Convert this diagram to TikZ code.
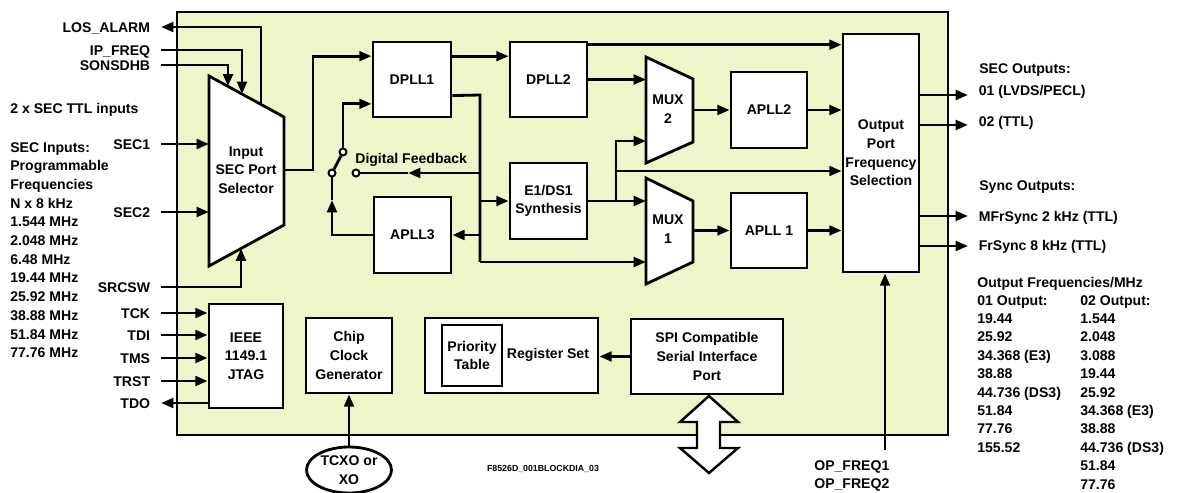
\documentclass[tikz,border=0pt]{standalone}
\usepackage{fontspec}
\setmainfont{Liberation Sans}
\usetikzlibrary{arrows.meta,calc,shapes.geometric}
\definecolor{chipbg}{HTML}{EEF5C9}

\tikzset{
  wire/.style={line width=1.6pt},
  sig/.style={wire, -{Triangle[length=7pt,width=5.5pt]}},
  blk/.style={draw, line width=1.6pt, fill=white, align=center, inner sep=1pt},
  sz/.style 2 args={minimum width=#1*0.02cm, minimum height=#2*0.02cm},
  even/.style={text height=5.8pt, text depth=0pt},
  lbl/.style={even, anchor=east, inner xsep=6pt, inner ysep=0pt},
  txt/.style={even, anchor=west, inner sep=0pt},
  outtxt/.style={even, anchor=west, inner xsep=6pt, inner ysep=0pt},
  contact/.style={circle, draw, fill=white, line width=1.1pt, minimum size=4pt, inner sep=0pt},
}

\begin{document}
\begin{tikzpicture}[x=0.02cm, y=-0.02cm, font=\fontsize{8pt}{10.6pt}\selectfont\bfseries]
\useasboundingbox (0,0) rectangle (1177,493);

% chip body
\draw[line width=1.6pt, fill=chipbg] (177,12) rectangle (948,435);

% input port selector
\draw[line width=1.6pt, fill=white] (209,76) coordinate (sel-nw) -- (284,117) -- (284,225) -- (209,266) -- cycle;
\node[align=center] (selt) at (246,170) {Input\\SEC Port\\Selector};
\coordinate (sel-los) at (261,104.4);
\coordinate (sel-ipf) at (242,94);
\coordinate (sel-son) at (228,86.4);
\coordinate (sel-src) at (241,248.5);
\coordinate (sel-out) at (284,170);

% muxes
\draw[line width=1.6pt, fill=white] (646,57) coordinate (m2-nw) -- (693,79) coordinate (m2-ne) -- (693,142) -- (646,163) -- cycle;
\node[align=center] (mux2) at (668,109) {MUX\\2};
\draw[line width=1.6pt, fill=white] (646,178) coordinate (m1-nw) -- (693,201) coordinate (m1-ne) -- (693,262) -- (646,284) -- cycle;
\node[align=center] (mux1) at (668,229) {MUX\\1};
\coordinate (m2-in) at (646,141);
\coordinate (m1-in) at (646,262);

% blocks
\node[blk, sz={78}{75}] (dpll1) at (412,79.5) {DPLL1};
\node[blk, sz={77}{75}] (dpll2) at (548.5,79.5) {DPLL2};
\node[blk, sz={77}{76}] (apll3) at (412.5,235) {APLL3};
\node[blk, sz={77}{76}] (e1ds1) at (548.5,201) {E1/DS1\\Synthesis};
\node[blk, sz={76}{76}] (apll2) at (769,110) {APLL2};
\node[blk, sz={76}{75}] (apll1) at (769,230.5) {APLL 1};
\node[blk, sz={76}{238}] (opfs) at (881,153) {Output\\Port\\Frequency\\Selection};
\node[blk, sz={74}{104}] (jtag) at (246,356) {IEEE\\1149.1\\JTAG};
\node[blk, sz={86}{75}] (ccg) at (349,355.5) {Chip\\Clock\\Generator};
\node[blk, sz={173}{75}] (regs) at (511.5,355.5) {};
\node[blk, sz={60}{61}] (prio) at (472,355.5) {Priority\\Table};
\node (rst) at (548,355) {Register Set};
\node[blk, sz={152}{75}] (spi) at (707,356.5) {SPI Compatible\\Serial Interface\\Port};
\node[draw, ellipse, line width=1.6pt, fill=white, sz={85}{46}, align=center, inner sep=0pt] (xo) at (349,470) {TCXO or\\XO};

% bus port to the outside
\draw[line width=1.4pt, fill=white] (709,396) -- (738,422) -- (720,422) -- (720,448) -- (738,448) -- (709,473)
  -- (680,448) -- (697,448) -- (697,422) -- (680,422) -- cycle;

% left pins
\foreach \n/\t/\y in {los/LOS\_ALARM/27, ipf/IP\_FREQ/50, son/SONSDHB/65, sec1/SEC1/144, sec2/SEC2/212,
  src/SRCSW/287, tck/TCK/313, tdi/TDI/335, tms/TMS/358, trst/TRST/381, tdo/TDO/403}
  \node[lbl] (\n) at (161,\y) {\t};

\draw[sig] (sel-los) |- (los.east);
\draw[sig] (ipf.east) -| (sel-ipf);
\draw[sig] (son.east) -| (sel-son);
\draw[sig] (sec1.east) -- (sec1.east -| sel-nw);
\draw[sig] (sec2.east) -- (sec2.east -| sel-nw);
\draw[sig] (src.east) -| (sel-src);
\foreach \n in {tck,tdi,tms,trst}
  \draw[sig] (\n.east) -- (\n.east -| jtag.west);
\draw[sig] (tdo.east -| jtag.west) -- (tdo.east);

% left notes
\node[txt] (ttl) at (10,108) {2 x SEC TTL inputs};
\foreach \t [count=\i] in {SEC Inputs:, Programmable, Frequencies, N x 8 kHz, 1.544 MHz, 2.048 MHz,
  6.48 MHz, 19.44 MHz, 25.92 MHz, 38.88 MHz, 51.84 MHz, 77.76 MHz}
  \node[txt] (fin\i) at (10,{147+18.7*(\i-1)}) {\t};

% switch
\node[contact] (swt) at (343,152) {};
\node[contact] (swb) at (332,173) {};
\node[contact] (swf) at (356,173) {};
\draw[wire] (swb) -- (swt);
\node[txt] (fbt) at (355,158) {Digital Feedback};

\coordinate (d1-in1) at ($(dpll1.north west)!0.2!(dpll1.south west)$);
\coordinate (d1-in2) at ($(dpll1.north west)!0.813!(dpll1.south west)$);
\coordinate (d1-out) at ($(dpll1.north east)!0.707!(dpll1.south east)$);
\coordinate (bus-top) at (480,95);
\coordinate (bus-bot) at (480,262);
\coordinate (fb-tip) at (408,173);
\coordinate (fb-up) at (332,200);

\draw[sig] (sel-out) -- ++(29,0) |- (d1-in1);
\draw[sig] (swt) |- (d1-in2);
\draw[wire] (d1-out) -- (bus-top) -- (bus-bot);
\draw[sig] (bus-bot) -- (m1-in);
\draw[sig] (bus-top |- e1ds1.west) -- (e1ds1.west);
\draw[sig] (bus-top |- apll3.east) -- (apll3.east);
\draw[sig] (bus-top |- swf) -- (fb-tip);
\draw[wire] (fb-tip) -- (swf);
\draw[sig] (apll3.west) -| (fb-up);
\draw[wire] (fb-up) -- (swb);

% main path
\coordinate (d2-top) at ($(dpll2.north east)!0.053!(dpll2.south east)$);
\draw[sig] ($(dpll1.north east)!0.2!(dpll1.south east)$) -- ($(dpll2.north west)!0.2!(dpll2.south west)$);
\draw[sig] (d2-top) -- (d2-top -| opfs.west);
\draw[sig] (dpll2.east) -- (dpll2.east -| m2-nw);
\draw[sig] (apll2.west -| m2-ne) -- (apll2.west);
\draw[sig] (apll2.east) -- (apll2.east -| opfs.west);
\coordinate (e1-br) at (616,201);
\coordinate (e1-up) at (616,171);
\draw[sig] (e1ds1.east) -- (e1ds1.east -| m1-nw);
\draw[sig] (e1-br) |- (m2-in);
\draw[sig] (e1-up) -- (e1-up -| opfs.west);
\draw[sig] (apll1.west -| m1-ne) -- (apll1.west);
\draw[sig] (apll1.east) -- (apll1.east -| opfs.west);

% lower blocks
\draw[sig] (spi.west) -- (spi.west -| regs.east);
\draw[sig] (xo.north) -- (xo.north |- ccg.south);
\node[font=\fontsize{5pt}{6pt}\selectfont\bfseries] (fig) at (543,469) {F8526D\_001BLOCKDIA\_03};

% outputs
\node[txt] (secout) at (979,68) {SEC Outputs:};
\node[txt] (syncout) at (979,185) {Sync Outputs:};
\foreach \n/\ya/\yt/\t in {o1/95/90/{01 (LVDS/PECL)}, o2/125/121/{02 (TTL)},
  o3/216/216/{MFrSync 2 kHz (TTL)}, o4/246/245/{FrSync 8 kHz (TTL)}} {
  \node[outtxt] (\n) at (968,\yt) {\t};
  \coordinate (\n-src) at (919,\ya);
  \draw[sig] (\n-src) -- (\n-src -| \n.west);
}

% op freq pins
\node[txt] (opf1) at (814,465) {OP\_FREQ1};
\node[txt] (opf2) at (814,483) {OP\_FREQ2};
\coordinate (opf-tail) at (885,450);
\draw[sig] (opf-tail) -- (opf-tail |- opfs.south);

% frequency table
\node[txt] (fhead) at (977,282) {Output Frequencies/MHz};
\foreach \t [count=\i] in {01 Output:, 19.44, 25.92, 34.368 (E3), 38.88, 44.736 (DS3), 51.84, 77.76, 155.52}
  \node[txt] (fa\i) at (977,{300+18.4*(\i-1)}) {\t};
\foreach \t [count=\i] in {02 Output:, 1.544, 2.048, 3.088, 19.44, 25.92, 34.368 (E3), 38.88, 44.736 (DS3), 51.84, 77.76}
  \node[txt] (fb\i) at (1080,{300+18.4*(\i-1)}) {\t};

\end{tikzpicture}
\end{document}
